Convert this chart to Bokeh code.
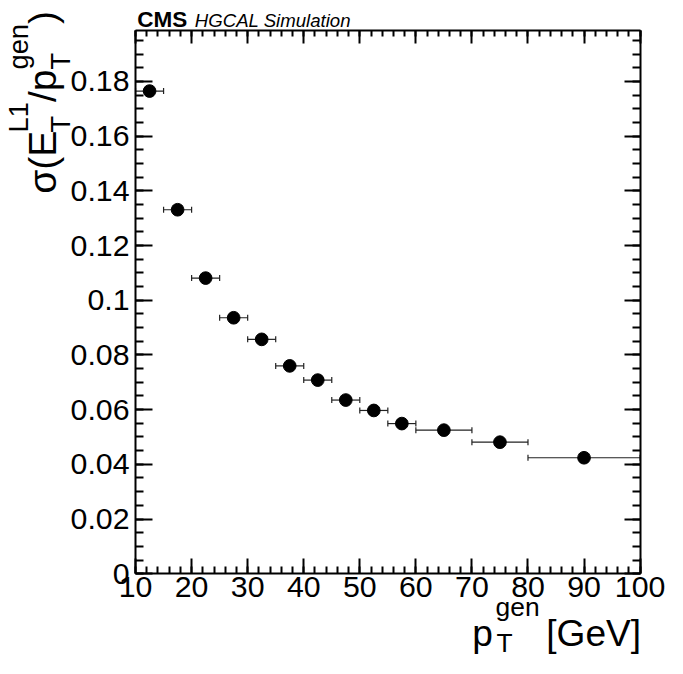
import math
import numpy as np
from bokeh.plotting import figure
from bokeh.models import (ColumnDataSource, Range1d, LinearAxis, FixedTicker,
                          Whisker, TeeHead, Label)
from bokeh.embed import file_html
from bokeh.resources import INLINE

# ---- data ----
pt_center = [12.5, 17.5, 22.5, 27.5, 32.5, 37.5, 42.5, 47.5, 52.5, 57.5, 65.0, 75.0, 90.0]
pt_halfwidth = [2.5, 2.5, 2.5, 2.5, 2.5, 2.5, 2.5, 2.5, 2.5, 2.5, 5.0, 5.0, 10.0]
resolution = [0.1765, 0.1331, 0.1081, 0.0936, 0.0857, 0.0760, 0.0708, 0.0635,
              0.0597, 0.0549, 0.0525, 0.0481, 0.0424]

x_ticks = [10, 20, 30, 40, 50, 60, 70, 80, 90, 100]
y_ticks = [0, 0.02, 0.04, 0.06, 0.08, 0.1, 0.12, 0.14, 0.16, 0.18]
y_tick_labels = ["0", "0.02", "0.04", "0.06", "0.08", "0.1", "0.12", "0.14", "0.16", "0.18"]

X_MIN, X_MAX = 10, 100
Y_MIN, Y_MAX = 0.0, 0.1988

FONT = "Liberation Sans"

# ---- layout (canvas pixels) ----
W, H = 667, 658
S = 0.9765                      # reference-to-canvas scale
BOX_L, BOX_R = 138.3 * S, 655.0 * S
BOX_T, BOX_B = 30.3 * S, 587.0 * S
kx = (BOX_R - BOX_L) / (X_MAX - X_MIN)
ky = (BOX_B - BOX_T) / (Y_MAX - Y_MIN)
x_range = Range1d(X_MIN - BOX_L / kx, X_MAX + (W - BOX_R) / kx)
y_range = Range1d(Y_MIN - (H - BOX_B) / ky, Y_MAX + BOX_T / ky)

src = ColumnDataSource(dict(
    x=pt_center,
    y=resolution,
    lo=[c - h for c, h in zip(pt_center, pt_halfwidth)],
    hi=[c + h for c, h in zip(pt_center, pt_halfwidth)],
))

p = figure(width=W, height=H, output_backend="svg", toolbar_location=None,
           x_range=x_range, y_range=y_range, title_location=None,
           x_axis_location=None, y_axis_location=None,
           min_border=0, min_border_left=0, min_border_right=0,
           min_border_top=0, min_border_bottom=0,
           background_fill_color="white", border_fill_color="white",
           outline_line_color=None)
p.xgrid.visible = False
p.ygrid.visible = False

x_minor = list(np.arange(10, 100.001, 2.0))
y_minor = list(np.arange(0, 0.19881, 0.005))
xticker = FixedTicker(ticks=x_ticks, minor_ticks=x_minor)
yticker = FixedTicker(ticks=y_ticks, minor_ticks=y_minor)


def make_axis(ticker, maj, mnr, loc, bounds, labels=True):
    ax = LinearAxis(ticker=ticker, fixed_location=loc, bounds=bounds)
    ax.axis_line_width = 2
    ax.axis_line_color = "black"
    ax.major_tick_in = maj
    ax.major_tick_out = 0
    ax.minor_tick_in = mnr
    ax.minor_tick_out = 0
    ax.major_tick_line_width = 2
    ax.minor_tick_line_width = 2
    ax.major_tick_line_color = "black"
    ax.minor_tick_line_color = "black"
    ax.major_label_text_font = FONT
    ax.major_label_text_font_size = f"{31 * S:.1f}px"
    ax.major_label_text_color = "black"
    if not labels:
        ax.major_label_text_font_size = "0px"
        ax.major_label_text_color = None
    return ax


bottom_ax = make_axis(xticker, 15, 7, Y_MIN, (X_MIN, X_MAX))
bottom_ax.major_label_standoff = 3
left_ax = make_axis(yticker, 17, 8, X_MIN, (Y_MIN, Y_MAX))
left_ax.major_label_standoff = 6
left_ax.major_label_overrides = {t: s for t, s in zip(y_ticks, y_tick_labels)}
top_ax = make_axis(xticker, 13, 6, Y_MAX, (X_MIN, X_MAX), labels=False)
right_ax = make_axis(yticker, 16, 8, X_MAX, (Y_MIN, Y_MAX), labels=False)
p.add_layout(bottom_ax, "below")
p.add_layout(left_ax, "left")
p.add_layout(top_ax, "above")
p.add_layout(right_ax, "right")

# horizontal bin-width bars
wh = Whisker(source=src, base="y", lower="lo", upper="hi", dimension="width",
             line_color="#222222", line_width=1.2,
             upper_head=TeeHead(size=6, line_color="#222222", line_width=1.2),
             lower_head=TeeHead(size=6, line_color="#222222", line_width=1.2))
p.add_layout(wh)
p.scatter("x", "y", source=src, size=13 * S, color="black", marker="circle")

DESC = 0.21  # baseline compensation (fraction of font size)


# ---- text, given in reference pixels (top-left origin), at the baseline ----
def add_text(txt, rx, ry, size, angle=0.0, style="normal", align="left"):
    fs = size * S
    cx, cy = rx * S, H - ry * S
    if angle == 0.0:
        cy += DESC * fs
    else:
        cx -= DESC * fs
    p.add_layout(Label(x=cx, y=cy, x_units="screen", y_units="screen",
                       text=txt, text_font=FONT, text_font_size=f"{fs:.1f}px",
                       text_font_style=style, text_color="black",
                       text_align=align, text_baseline="alphabetic",
                       angle=angle))


ADV = {"σ": 0.57, "(": 0.333, ")": 0.333, "/": 0.278, "E": 0.667, "L": 0.556,
       "1": 0.556, "p": 0.556, "g": 0.556, "e": 0.556, "n": 0.556, "T": 0.611,
       " ": 0.278, "[": 0.278, "]": 0.278, "G": 0.778, "V": 0.667}


def tw(s, size):
    return sum(ADV.get(c, 0.556) for c in s) * size


# x-axis title: p_T^gen [GeV]
XM, XS = 38, 27
base = 656
add_text("p", 483, base, XM)
add_text("gen", 507, base - 29, XS)
add_text("T", 508, base + 8, XS)
add_text("[GeV]", 656, base, XM, align="right")

# y-axis title: sigma(E_T^L1 / p_T^gen), rotated
YM, YS = 40, 28
rot = math.pi / 2
bx = 51
y = 198
add_text("σ(E", bx, y, YM, angle=rot)
y -= tw("σ(E", YM)
add_text("L1", bx - 27, y, YS, angle=rot)
add_text("T", bx + 16, y, YS, angle=rot)
y -= tw("L1", YS)
add_text("/p", bx, y, YM, angle=rot)
y -= tw("/p", YM)
add_text("gen", bx - 27, y, YS, angle=rot)
add_text("T", bx + 16, y, YS, angle=rot)
y -= tw("gen", YS)
add_text(")", bx, y, YM, angle=rot)

# CMS label
add_text("CMS", 140, 24, 23, style="bold")
add_text("HGCAL Simulation", 199, 24, 19, style="italic")

open("out.html", "w").write(file_html(p, INLINE))
